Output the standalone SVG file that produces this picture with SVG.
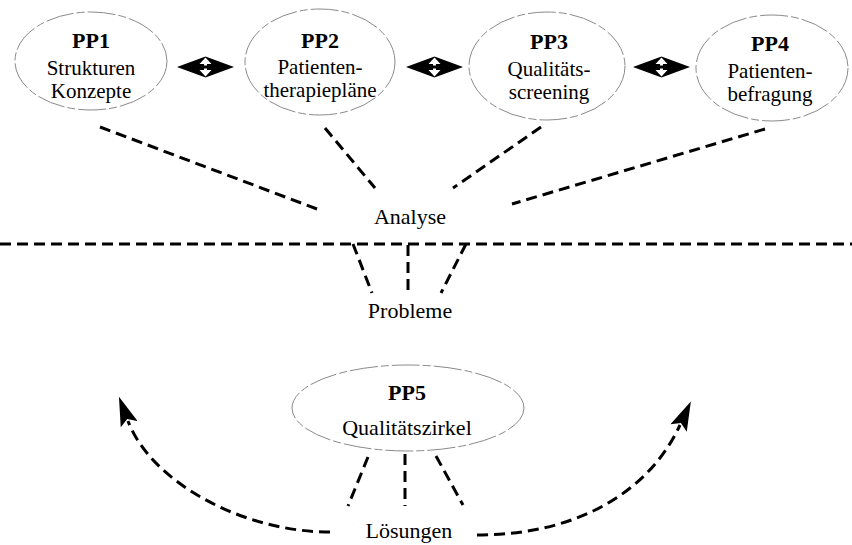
<svg xmlns="http://www.w3.org/2000/svg" width="852" height="545" viewBox="0 0 852 545">
<style>
.ell{fill:none;stroke:#8a8a8a;stroke-width:1;stroke-dasharray:28 3 8 3}
.t{font-family:"Liberation Serif","Times New Roman",serif;font-size:22px;fill:#000;text-anchor:middle}
.s{font-size:21px}
.b{font-weight:bold}
.d{fill:none;stroke:#000;stroke-width:3;stroke-dasharray:11 6}
</style>
<defs>
<marker id="ah" markerUnits="userSpaceOnUse" markerWidth="30" markerHeight="18" viewBox="0 0 26 16" refX="3" refY="8" orient="auto">
<path d="M0,0 L26,8 L0,16 L5,8 z" fill="#000"/>
</marker>
<g id="dbl">
<polygon points="-28.5,0 0,-10.5 28.5,0 0,10.5" fill="#000"/>
<polygon points="0,-9.5 -6,-3 -1.5,-3 -1.5,-1.5 1.5,-1.5 1.5,-3 6,-3" fill="#fff"/>
<polygon points="0,9.5 -6,3 -1.5,3 -1.5,1.5 1.5,1.5 1.5,3 6,3" fill="#fff"/>
</g>
</defs>
<g id="pp1">
<ellipse class="ell" cx="91" cy="61" rx="76" ry="49"/>
<text class="t b" x="91" y="48">PP1</text>
<text class="t s" x="91" y="75">Strukturen</text>
<text class="t s" x="91" y="98">Konzepte</text>
</g>
<g id="pp2">
<ellipse class="ell" cx="320" cy="62" rx="75" ry="53"/>
<text class="t b" x="320" y="48">PP2</text>
<text class="t s" x="320" y="74">Patienten-</text>
<text class="t s" x="320" y="97">therapiepläne</text>
</g>
<g id="pp3">
<ellipse class="ell" cx="547" cy="66" rx="78" ry="54"/>
<text class="t b" x="549" y="49">PP3</text>
<text class="t s" x="549" y="76">Qualitäts-</text>
<text class="t s" x="549" y="99">screening</text>
</g>
<g id="pp4">
<ellipse class="ell" cx="772" cy="68" rx="76" ry="53"/>
<text class="t b" x="770" y="51">PP4</text>
<text class="t s" x="770" y="78">Patienten-</text>
<text class="t s" x="770" y="101">befragung</text>
</g>
<g id="pp5">
<ellipse class="ell" cx="408" cy="408" rx="116" ry="43"/>
<text class="t b" x="407" y="400">PP5</text>
<text class="t" x="407" y="435">Qualitätszirkel</text>
</g>
<g id="analyse"><text class="t" x="410" y="224">Analyse</text></g>
<g id="probleme"><text class="t" x="410" y="318">Probleme</text></g>
<g id="loesungen"><text class="t" x="409" y="538">Lösungen</text></g>
<g id="connectors">
<use href="#dbl" x="205.5" y="67"/>
<use href="#dbl" x="434.5" y="67"/>
<use href="#dbl" x="661.5" y="67"/>
<line class="d" x1="100" y1="127" x2="317" y2="209"/>
<line class="d" x1="325" y1="128" x2="375" y2="188"/>
<line class="d" x1="541" y1="127" x2="453" y2="188"/>
<line class="d" x1="765" y1="129" x2="512" y2="204"/>
<line class="d" x1="0" y1="244" x2="852" y2="244"/>
<line class="d" x1="353" y1="244" x2="372" y2="293"/>
<line class="d" x1="408" y1="245" x2="408" y2="295"/>
<line class="d" x1="466" y1="244" x2="441" y2="293"/>
<line class="d" x1="368" y1="457" x2="348" y2="506"/>
<line class="d" x1="405" y1="454" x2="405" y2="506"/>
<line class="d" x1="436" y1="456" x2="463" y2="505"/>
<path class="d" d="M330,532 C240,532 150,480 128,421" marker-end="url(#ah)"/>
<path class="d" d="M477,535 C580,535 650,490 680,425" marker-end="url(#ah)"/>
</g>
</svg>
